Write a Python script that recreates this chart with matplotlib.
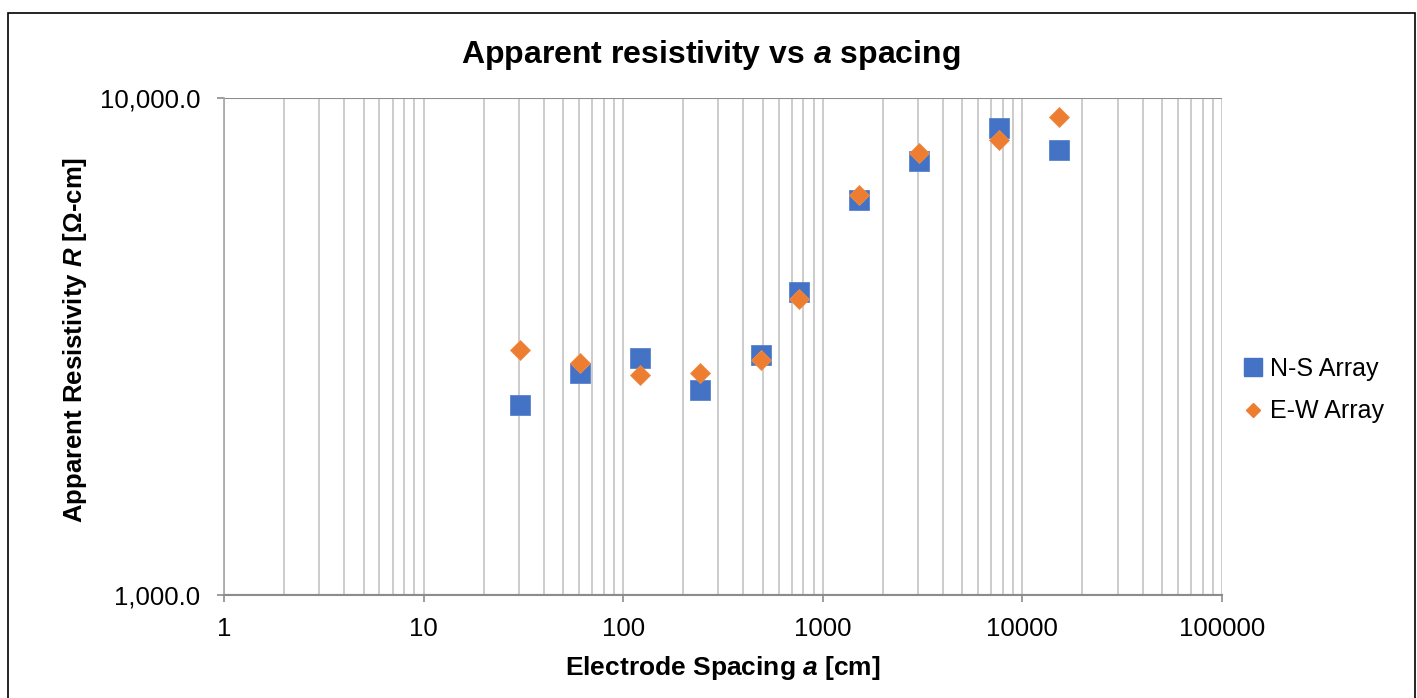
import matplotlib
matplotlib.use("Agg")
import matplotlib.pyplot as plt
from matplotlib.ticker import FixedLocator, FuncFormatter, LogLocator
from matplotlib.lines import Line2D
from matplotlib.patches import Rectangle

plt.rcParams['font.family'] = ['Liberation Sans', 'DejaVu Sans']
plt.rcParams['mathtext.fontset'] = 'custom'
plt.rcParams['mathtext.it'] = 'Liberation Sans:italic:bold'
plt.rcParams['mathtext.rm'] = 'Liberation Sans:bold'
plt.rcParams['mathtext.bf'] = 'Liberation Sans:bold'

# electrode spacing (1, 2, 4, 8, 16, 25, 50, 100, 250, 500 ft in cm)
spacing_cm = [30.48, 60.96, 121.92, 243.84, 487.68, 762, 1524, 3048, 7620, 15240]
ns_array = [2410, 2800, 3000, 2585, 3040, 4070, 6230, 7470, 8700, 7860]
ew_array = [3110, 2930, 2770, 2800, 2970, 3940, 6380, 7750, 8230, 9160]
series_names = ['N-S Array', 'E-W Array']
x_ticks = [1, 10, 100, 1000, 10000, 100000]
y_ticks = [1000, 10000]

blue = '#4472C4'
orange = '#ED7D31'
W, H = 1417, 698

fig = plt.figure(figsize=(W / 100, H / 100), dpi=100)
ax = fig.add_axes([224 / W, 1 - 595 / H, (1222 - 224) / W, (595 - 98) / H])

ax.set_xscale('log')
ax.set_yscale('log')
ax.set_xlim(x_ticks[0], x_ticks[-1])
ax.set_ylim(y_ticks[0], y_ticks[-1])

ax.plot(spacing_cm, ns_array, ls='none', marker='s', ms=14, color=blue,
        mec='#5a84cc', mew=0.6, zorder=3)
ax.plot(spacing_cm, ew_array, ls='none', marker='D', ms=9.7, color=orange,
        mec='#f08c48', mew=0.6, zorder=4)

# ticks
ax.xaxis.set_major_locator(FixedLocator(x_ticks))
ax.xaxis.set_major_formatter(FuncFormatter(lambda v, p: f'{int(round(v))}'))
ax.xaxis.set_minor_locator(LogLocator(base=10, subs=range(2, 10), numticks=20))
ax.yaxis.set_major_locator(FixedLocator(y_ticks))
ax.yaxis.set_major_formatter(FuncFormatter(lambda v, p: f'{v:,.1f}'))
ax.yaxis.set_minor_locator(FixedLocator([]))

ax.tick_params(axis='x', which='major', direction='out', length=5, width=1.2,
               color='#8c8c8c', labelsize=18.5, pad=11)
ax.tick_params(axis='x', which='minor', length=0)
ax.tick_params(axis='y', which='major', direction='out', length=5, width=1.2,
               color='#8c8c8c', labelsize=18.5, pad=12)

ax.grid(axis='x', which='both', color='#bfbfbf', lw=1.1)
ax.grid(axis='y', which='major', color='#8c8c8c', lw=1.5)
ax.set_axisbelow(True)

for s in ['top', 'right']:
    ax.spines[s].set_visible(False)
ax.spines['bottom'].set_color('#8c8c8c')
ax.spines['bottom'].set_linewidth(1.5)
ax.spines['left'].set_color('#a6a6a6')
ax.spines['left'].set_linewidth(1.2)

# titles
fig.text(711 / W, 1 - 63 / H, 'Apparent resistivity vs $a$ spacing',
         ha='center', va='baseline', fontsize=23, fontweight='bold')
fig.text(723 / W, 1 - 675 / H, 'Electrode Spacing $a$ [cm]',
         ha='center', va='baseline', fontsize=19, fontweight='bold')
fig.text(75 / W, 1 - 340 / H, 'Apparent Resistivity $R$ [Ω-cm]',
         ha='center', va='center', rotation=90, fontsize=18.5, fontweight='bold')

# legend
handles = [Line2D([], [], ls='none', marker='s', ms=13.5, color=blue),
           Line2D([], [], ls='none', marker='D', ms=6.8, color=orange)]
fig.legend(handles, series_names, loc='center left',
           bbox_to_anchor=(1240 / W, 1 - 390 / H), frameon=False,
           fontsize=18, handlelength=1.0, handletextpad=0.2,
           labelspacing=0.75, borderpad=0, borderaxespad=0)

# chart border
fig.patches.append(Rectangle((8 / W, -0.05), (1415 - 8) / W, 1.05 - 13 / H,
                             transform=fig.transFigure, fill=False,
                             edgecolor='black', lw=1.2))

fig.savefig('out.png', dpi=100)
